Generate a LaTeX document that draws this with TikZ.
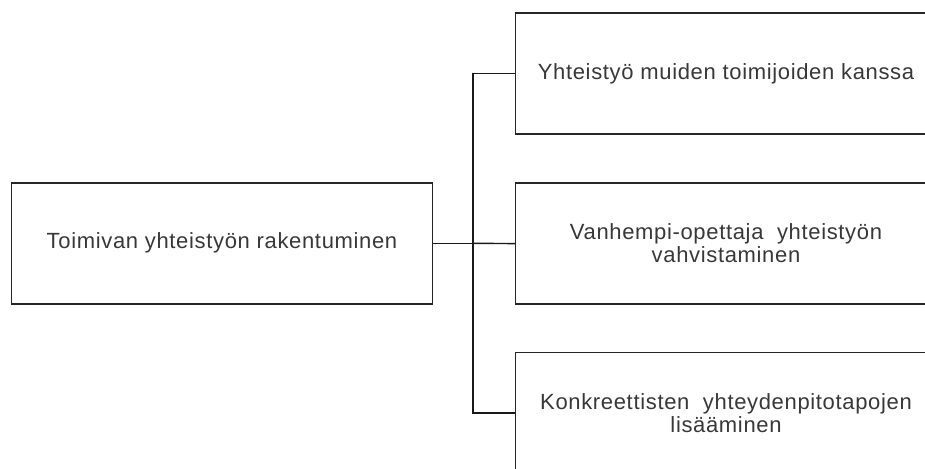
\documentclass[tikz,border=0pt]{standalone}
\usepackage{fontspec}
\setmainfont{Liberation Sans}[LetterSpace=3]
\begin{document}
\begin{tikzpicture}[x=1pt,y=-1pt,
  box/.style={draw=black!85, line width=1.5pt, minimum width=421pt, minimum height=121pt,
    inner sep=0pt, align=center, font=\fontsize{22}{23}\selectfont, text=black!78},
  link/.style={draw=black!90, line width=1.4pt}]
  \useasboundingbox (0,0) rectangle (925,468);
  % root of the tree
  \node[box] (root) at (222,243.3) {Toimivan yhteistyön rakentuminen};
  % branches
  \node[box] (b1) at (726,73.7) {Yhteistyö muiden toimijoiden kanssa};
  \node[box] (b2) at (726,243.6) {Vanhempi-opettaja\ \ yhteistyön\\vahvistaminen};
  \node[box] (b3) at (726,413) {Konkreettisten\ \ yhteydenpitotapojen\\lisääminen};
  % trunk and its junction
  \coordinate (j) at (473,243.3);
  \draw[link] (root.east) -- (j);
  \draw[link] (b1.west) -| (j);
  \draw[link] (b2.west) -- (j);
  \draw[link] (b3.west) -| (j);
\end{tikzpicture}
\end{document}
